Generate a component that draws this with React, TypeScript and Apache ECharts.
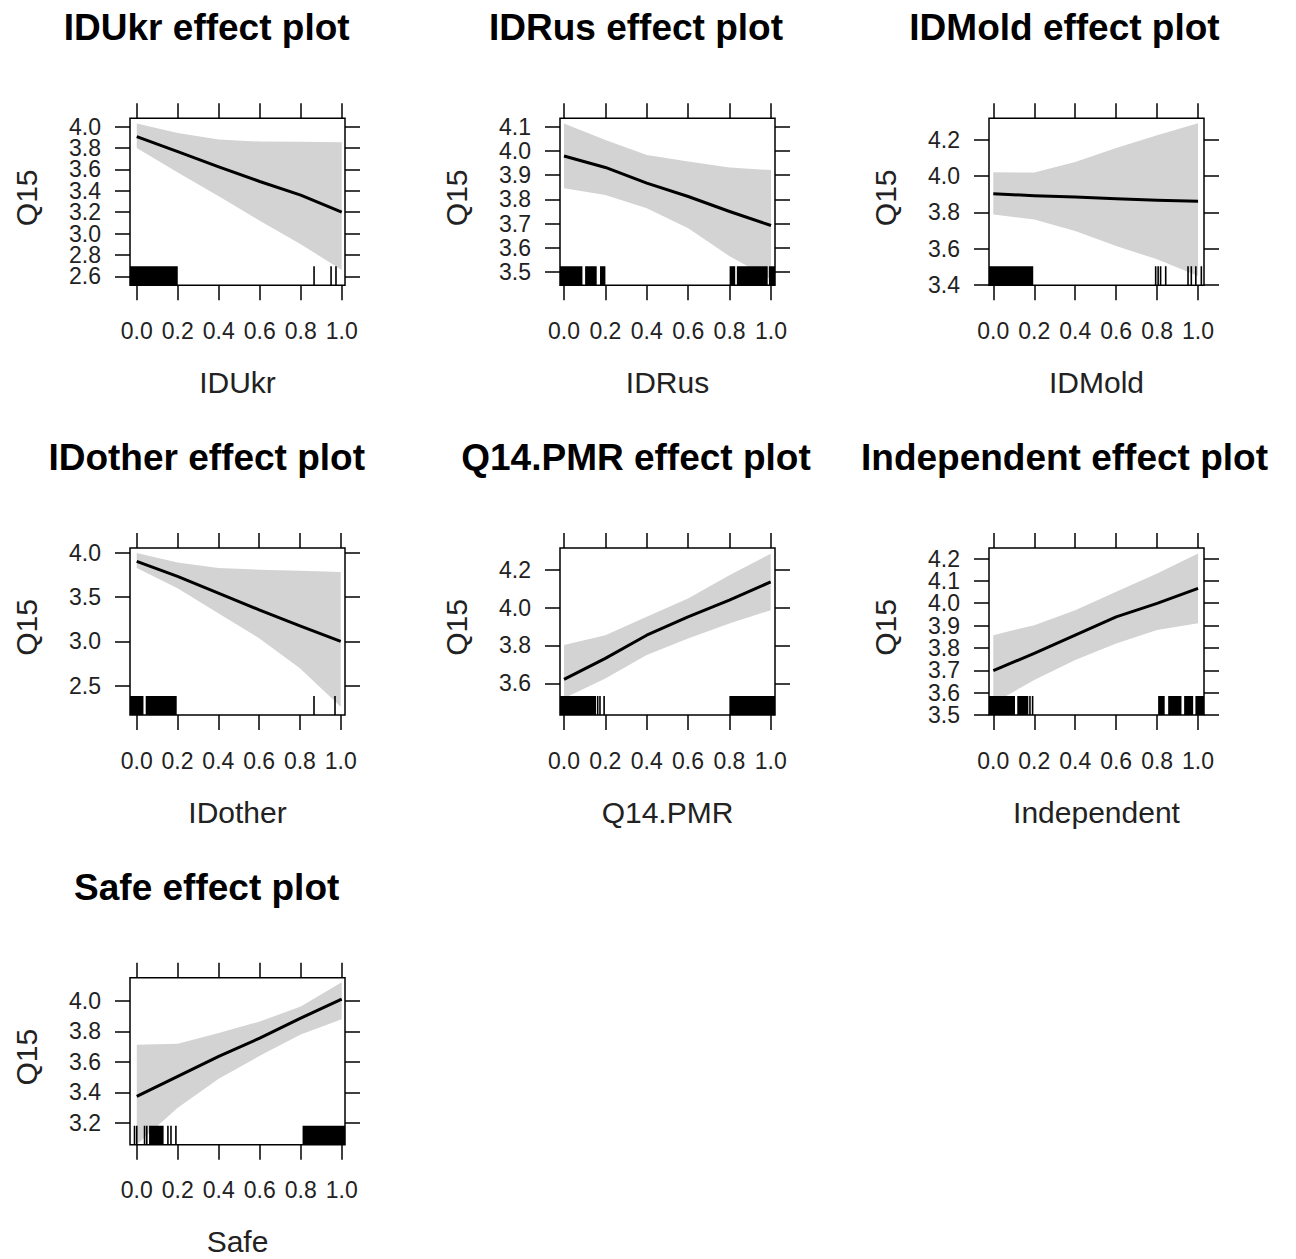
import React, { useEffect, useRef } from "react";
import * as echarts from "echarts";

// ---------- data ----------
const xs = [0, 0.2, 0.4, 0.6, 0.8, 1.0];
const xTickValues = [0, 0.2, 0.4, 0.6, 0.8, 1.0];
const yName = "Q15";

// IDUkr
const idukrFit = [3.907, 3.767, 3.624, 3.487, 3.36, 3.2];
const idukrUpper = [4.03, 3.94, 3.88, 3.86, 3.858, 3.855];
const idukrLower = [3.8, 3.57, 3.35, 3.12, 2.9, 2.66];
const idukrYTicks = [2.6, 2.8, 3.0, 3.2, 3.4, 3.6, 3.8, 4.0];
const idukrRugBlocks = [[-0.05, 0.2]];
const idukrRugTicks = [0.865, 0.948, 0.972];

// IDRus
const idrusFit = [3.979, 3.932, 3.867, 3.812, 3.75, 3.692];
const idrusUpper = [4.114, 4.045, 3.983, 3.956, 3.932, 3.921];
const idrusLower = [3.846, 3.818, 3.763, 3.681, 3.565, 3.47];
const idrusYTicks = [3.5, 3.6, 3.7, 3.8, 3.9, 4.0, 4.1];
const idrusRugBlocks = [[-0.05, 0.089], [0.102, 0.158], [0.174, 0.2], [0.8, 0.827], [0.835, 0.984], [0.99, 1.05]];
const idrusRugTicks: number[] = [];

// IDMold
const idmoldFit = [3.903, 3.892, 3.885, 3.876, 3.867, 3.861];
const idmoldUpper = [4.021, 4.02, 4.078, 4.155, 4.225, 4.292];
const idmoldLower = [3.788, 3.761, 3.697, 3.615, 3.541, 3.449];
const idmoldYTicks = [3.4, 3.6, 3.8, 4.0, 4.2];
const idmoldRugBlocks = [[-0.05, 0.195]];
const idmoldRugTicks = [0.793, 0.805, 0.817, 0.842, 0.951, 0.967, 0.989, 1.016];

// IDother
const idotherFit = [3.906, 3.736, 3.547, 3.358, 3.176, 3.0];
const idotherUpper = [4.0, 3.894, 3.83, 3.811, 3.8, 3.785];
const idotherLower = [3.83, 3.603, 3.32, 3.037, 2.697, 2.262];
const idotherYTicks = [2.5, 3.0, 3.5, 4.0];
const idotherRugBlocks = [[-0.05, 0.033], [0.044, 0.196]];
const idotherRugTicks = [0.869, 0.972];

// Q14.PMR
const pmrFit = [3.621, 3.732, 3.854, 3.951, 4.039, 4.135];
const pmrUpper = [3.802, 3.854, 3.951, 4.047, 4.17, 4.284];
const pmrLower = [3.521, 3.626, 3.749, 3.837, 3.916, 3.986];
const pmrYTicks = [3.6, 3.8, 4.0, 4.2];
const pmrRugBlocks = [[-0.05, 0.155], [0.8, 1.05]];
const pmrRugTicks = [0.163, 0.174, 0.194];

// Independent
const indepFit = [3.698, 3.776, 3.857, 3.939, 3.999, 4.066];
const indepUpper = [3.857, 3.902, 3.969, 4.051, 4.133, 4.222];
const indepLower = [3.552, 3.657, 3.746, 3.82, 3.88, 3.91];
const indepYTicks = [3.5, 3.6, 3.7, 3.8, 3.9, 4.0, 4.1, 4.2];
const indepRugBlocks = [[-0.05, 0.106], [0.117, 0.171], [0.805, 0.837], [0.854, 0.919], [0.932, 0.976], [0.987, 1.05]];
const indepRugTicks = [0.179, 0.192];

// Safe
const safeFit = [3.374, 3.505, 3.636, 3.756, 3.887, 4.011];
const safeUpper = [3.712, 3.72, 3.789, 3.865, 3.963, 4.122];
const safeLower = [3.06, 3.3, 3.49, 3.64, 3.78, 3.88];
const safeYTicks = [3.2, 3.4, 3.6, 3.8, 4.0];
const safeRugBlocks = [[0.06, 0.131], [0.809, 1.05]];
const safeRugTicks = [-0.011, 0.0, 0.038, 0.049, 0.152, 0.167, 0.191];

const panels = [
  { name: "IDUkr", fit: idukrFit, upper: idukrUpper, lower: idukrLower, yTicks: idukrYTicks, blocks: idukrRugBlocks, ticks: idukrRugTicks, xMin: -0.033, xMax: 1.016, yMin: 2.516, yMax: 4.078 },
  { name: "IDRus", fit: idrusFit, upper: idrusUpper, lower: idrusLower, yTicks: idrusYTicks, blocks: idrusRugBlocks, ticks: idrusRugTicks, xMin: -0.0193, xMax: 1.0193, yMin: 3.445, yMax: 4.135 },
  { name: "IDMold", fit: idmoldFit, upper: idmoldUpper, lower: idmoldLower, yTicks: idmoldYTicks, blocks: idmoldRugBlocks, ticks: idmoldRugTicks, xMin: -0.021, xMax: 1.029, yMin: 3.398, yMax: 4.319 },
  { name: "IDother", fit: idotherFit, upper: idotherUpper, lower: idotherLower, yTicks: idotherYTicks, blocks: idotherRugBlocks, ticks: idotherRugTicks, xMin: -0.033, xMax: 1.021, yMin: 2.168, yMax: 4.057 },
  { name: "Q14.PMR", fit: pmrFit, upper: pmrUpper, lower: pmrLower, yTicks: pmrYTicks, blocks: pmrRugBlocks, ticks: pmrRugTicks, xMin: -0.0194, xMax: 1.0208, yMin: 3.433, yMax: 4.314 },
  { name: "Independent", fit: indepFit, upper: indepUpper, lower: indepLower, yTicks: indepYTicks, blocks: indepRugBlocks, ticks: indepRugTicks, xMin: -0.021, xMax: 1.029, yMin: 3.5, yMax: 4.247 },
  { name: "Safe", fit: safeFit, upper: safeUpper, lower: safeLower, yTicks: safeYTicks, blocks: safeRugBlocks, ticks: safeRugTicks, xMin: -0.033, xMax: 1.016, yMin: 3.058, yMax: 4.152 },
];

// ---------- layout / style ----------
const FONT = "'Liberation Sans', Arial, sans-serif";
const colLeft = [130, 560, 989];
const rowTop = [118.3, 548, 977.7];
const titleX = [206.7, 636, 1064.5];
const BOX_W = 215;
const BOX_H = 167;
const RUG_H = 19;
const BAND = "#d3d3d3";

function buildOption() {
  const grid: any[] = [];
  const xAxis: any[] = [];
  const yAxis: any[] = [];
  const series: any[] = [];
  const graphic: any[] = [];

  const tickStyle = { show: true, length: 15, lineStyle: { color: "#000", width: 1.5 } };
  const labelStyle = { fontSize: 23, color: "#222", fontFamily: FONT, showMinLabel: true, showMaxLabel: true, hideOverlap: false };
  const fmt = (v: number) => v.toFixed(1);
  const noLine = { show: false, onZero: false };

  panels.forEach((p, i) => {
    const col = i % 3;
    const row = Math.floor(i / 3);
    const left = colLeft[col];
    const top = rowTop[row];
    grid.push({ left, top, width: BOX_W, height: BOX_H, show: true, borderColor: "#000", borderWidth: 1.5, backgroundColor: "transparent" });

    const xi = xAxis.length;
    xAxis.push({
      gridIndex: i, type: "value", position: "bottom", min: p.xMin, max: p.xMax,
      axisLine: noLine, splitLine: { show: false },
      axisTick: { ...tickStyle, customValues: xTickValues },
      axisLabel: { ...labelStyle, customValues: xTickValues, margin: 34, formatter: fmt },
    });
    xAxis.push({
      gridIndex: i, type: "value", position: "top", min: p.xMin, max: p.xMax,
      axisLine: noLine, splitLine: { show: false },
      axisTick: { ...tickStyle, customValues: xTickValues },
      axisLabel: { show: false },
    });

    // y labels split over two overlaid left axes so that ECharts keeps every one of them
    const evenTicks = p.yTicks.filter((_, k) => k % 2 === 0);
    const oddTicks = p.yTicks.filter((_, k) => k % 2 === 1);
    const yi = yAxis.length;
    yAxis.push({
      gridIndex: i, type: "value", position: "left", offset: 0, min: p.yMin, max: p.yMax,
      axisLine: noLine, splitLine: { show: false },
      axisTick: { ...tickStyle, customValues: p.yTicks },
      axisLabel: { ...labelStyle, customValues: evenTicks, margin: 29, formatter: fmt },
    });
    yAxis.push({
      gridIndex: i, type: "value", position: "left", offset: 0, min: p.yMin, max: p.yMax,
      axisLine: noLine, splitLine: { show: false },
      axisTick: { show: false },
      axisLabel: { ...labelStyle, show: oddTicks.length > 0, customValues: oddTicks.length ? oddTicks : [p.yMin], margin: 29, formatter: fmt },
    });
    yAxis.push({
      gridIndex: i, type: "value", position: "right", offset: 0, min: p.yMin, max: p.yMax,
      axisLine: noLine, splitLine: { show: false },
      axisTick: { ...tickStyle, customValues: p.yTicks },
      axisLabel: { show: false },
    });

    // confidence band
    series.push({
      type: "custom", xAxisIndex: xi, yAxisIndex: yi, clip: true, silent: true, z: 1,
      data: [[xs[0], p.fit[0]]],
      renderItem: (_params: any, api: any) => {
        const pts: number[][] = [];
        p.upper.forEach((u, k) => pts.push(api.coord([xs[k], u])));
        for (let k = p.lower.length - 1; k >= 0; k--) pts.push(api.coord([xs[k], p.lower[k]]));
        return { type: "polygon", shape: { points: pts }, style: { fill: BAND, stroke: "none" } };
      },
    });
    // fitted line
    series.push({
      type: "line", xAxisIndex: xi, yAxisIndex: yi, z: 3, silent: true,
      data: xs.map((x, k) => [x, p.fit[k]]),
      symbol: "none", showSymbol: false,
      lineStyle: { color: "#000", width: 3, join: "round" },
    });
    // rug blocks
    series.push({
      type: "custom", xAxisIndex: xi, yAxisIndex: yi, clip: true, silent: true, z: 4,
      data: p.blocks,
      renderItem: (_params: any, api: any) => {
        const a = api.coord([api.value(0), p.yMin]);
        const b = api.coord([api.value(1), p.yMin]);
        return { type: "rect", shape: { x: a[0], y: a[1] - RUG_H, width: b[0] - a[0], height: RUG_H }, style: { fill: "#000" } };
      },
    });
    // rug single ticks
    series.push({
      type: "custom", xAxisIndex: xi, yAxisIndex: yi, clip: true, silent: true, z: 4,
      data: p.ticks.map((t) => [t, p.yMin]),
      renderItem: (_params: any, api: any) => {
        const a = api.coord([api.value(0), p.yMin]);
        return { type: "line", shape: { x1: a[0], y1: a[1], x2: a[0], y2: a[1] - RUG_H }, style: { stroke: "#000", lineWidth: 1.6 } };
      },
    });

    // texts
    graphic.push({
      type: "text", x: titleX[col], y: top - 90.5,
      style: { text: `${p.name} effect plot`, fontSize: 37, fontWeight: "bold", fontFamily: FONT, fill: "#000", align: "center", verticalAlign: "middle" },
    });
    graphic.push({
      type: "text", x: left + BOX_W / 2, y: top + BOX_H + 97,
      style: { text: p.name, fontSize: 30, fontFamily: FONT, fill: "#222", align: "center", verticalAlign: "middle" },
    });
    graphic.push({
      type: "text", x: left - 104, y: top + BOX_H / 2 - 4, rotation: Math.PI / 2,
      style: { text: yName, fontSize: 30, fontFamily: FONT, fill: "#222", align: "center", verticalAlign: "middle" },
    });
  });

  return { animation: false, backgroundColor: "#fff", grid, xAxis, yAxis, series, graphic };
}

export default function App() {
  const ref = useRef<HTMLDivElement>(null);
  useEffect(() => {
    if (!ref.current) return;
    const chart = echarts.init(ref.current, undefined, { renderer: "svg" });
    chart.setOption(buildOption() as any);
    return () => chart.dispose();
  }, []);
  return <div ref={ref} style={{ position: "absolute", left: 0, top: 0, width: 1296, height: 1259 }} />;
}
